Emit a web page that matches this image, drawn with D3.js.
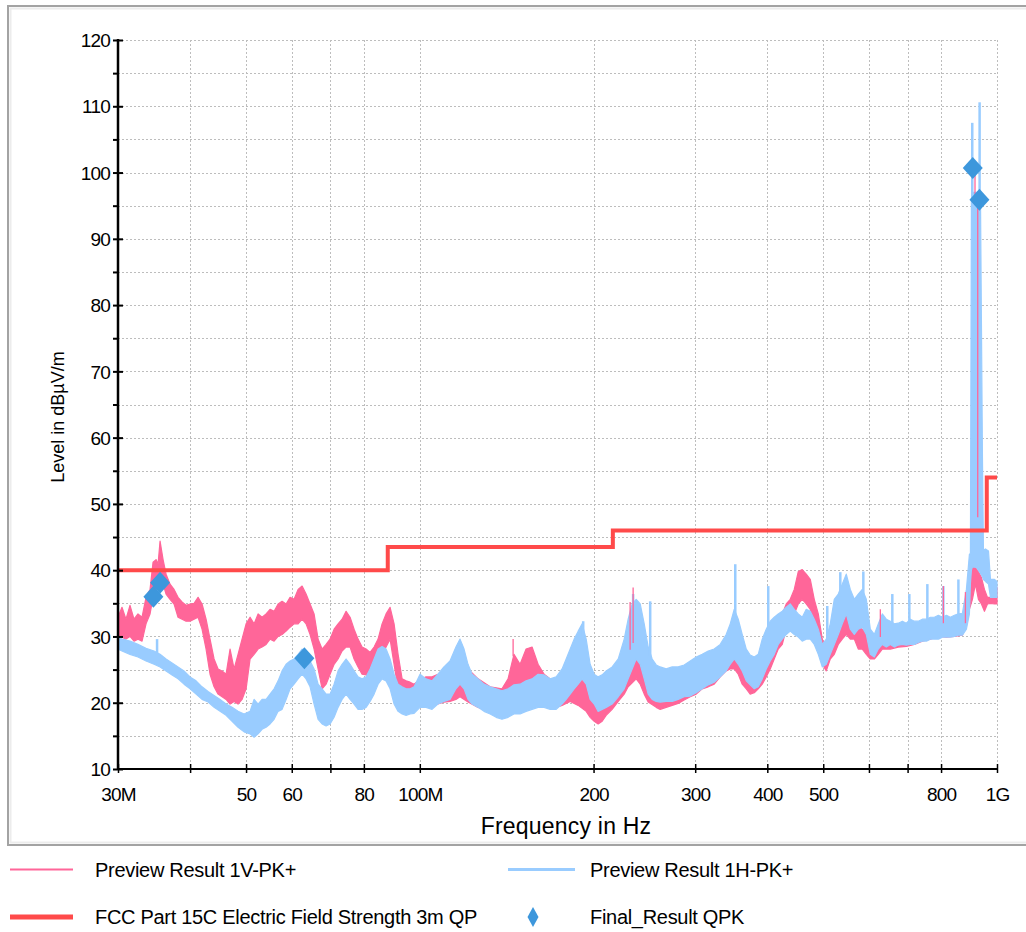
<!DOCTYPE html>
<html>
<head>
<meta charset="utf-8">
<script src="https://cdn.jsdelivr.net/npm/d3@7"></script>
<style>
  html, body { margin: 0; padding: 0; background: #fff; }
  svg text { font-family: "Liberation Sans", Arial, sans-serif; fill: #000; }
</style>
</head>
<body>
<svg id="chart" width="1026" height="932"></svg>
<script>
// ---- axis ticks ----
const xTickValues = [30, 40, 50, 60, 70, 80, 100, 200, 300, 400, 500, 600, 700, 800, 1000];
const xTickLabels = ["30M", "", "50", "60", "", "80", "100M", "200", "300", "400", "500", "", "", "800", "1G"];
const yMajorTicks = [10, 20, 30, 40, 50, 60, 70, 80, 90, 100, 110, 120];
const yMinorTicks = [15, 25, 35, 45, 55, 65, 75, 85, 95, 105, 115];

// ---- FCC Part 15C limit (MHz, dBµV/m) ----
const limitFreq  = [30, 88, 88, 216, 216, 960, 960, 1000];
const limitLevel = [40, 40, 43.5, 43.5, 46, 46, 54, 54];

// ---- Preview Result 1V-PK+ : peak envelope per frequency [MHz, low dB, high dB] ----
const vertBand = [
  [30.0,29.3,32.9],[30.48,29.9,34.4],[30.97,29.6,32.6],[31.47,30.0,34.7],[31.98,29.3,32.6],
  [32.49,29.6,33.4],[33.02,29.3,32.9],[33.55,31.9,35.9],[34.09,33.4,37.1],[34.50,35.9,41.2],
  [34.92,37.1,41.6],[35.20,37.9,40.9],[35.48,38.6,44.4],[35.91,37.9,41.6],[36.34,36.4,39.4],
  [36.92,35.6,37.9],[37.52,34.9,37.1],[38.12,32.9,35.9],[38.73,32.6,35.2],[39.36,32.3,34.7],
  [39.99,32.3,34.9],[40.64,32.6,35.0],[41.29,32.9,35.9],[41.95,31.1,34.9],[42.63,28.1,32.6],
  [43.31,24.3,29.6],[44.01,22.4,26.6],[44.72,21.3,25.1],[45.44,20.9,24.8],[46.17,20.5,24.3],
  [46.91,19.8,28.1],[47.67,20.2,25.1],[48.43,19.8,27.3],[49.21,20.5,29.6],[50.01,22.1,31.9],
  [50.81,26.6,32.9],[51.63,27.3,31.9],[52.46,28.1,33.4],[53.30,28.4,32.9],[54.16,28.8,33.4],
  [55.03,29.6,34.1],[55.92,29.3,33.8],[56.82,30.0,34.9],[57.73,30.3,35.3],[58.66,30.8,34.9],
  [59.60,31.4,35.9],[60.56,31.9,35.6],[61.54,31.9,37.1],[62.53,32.6,37.6],[63.53,31.9,36.4],
  [64.55,30.3,34.9],[65.59,28.1,33.4],[66.65,25.1,29.6],[67.72,22.1,28.1],[68.81,22.8,28.8],
  [69.91,24.3,29.6],[71.04,25.8,31.1],[72.18,26.6,31.9],[73.34,27.8,32.6],[74.52,28.4,33.8],
  [75.72,28.4,32.9],[76.94,26.6,31.1],[78.17,25.4,29.6],[79.43,24.3,28.4],[80.71,24.2,28.1],
  [82.01,23.9,27.6],[83.33,24.3,28.4],[84.67,25.4,29.6],[86.03,27.3,31.9],[87.41,28.4,33.4],
  [88.82,29.6,34.4],[90.25,25.8,31.9],[91.70,22.1,27.3],[93.18,20.5,23.6],[94.68,20.5,23.3],
  [96.20,20.2,23.1],[97.75,20.1,22.8],[99.32,20.1,23.3],[102.5,19.8,23.9],[105.0,19.8,23.9],
  [107.5,19.8,24.3],[110.1,20.1,24.8],[112.8,20.2,25.1],[115.5,20.5,25.8],[117.4,20.9,26.6],
  [121.2,20.1,25.1],[126.2,19.3,23.6],[132.4,18.7,22.4],[138.8,18.3,22.1],[142.2,18.7,23.6],
  [145.6,19.8,27.3],[149.2,19.3,25.8],[152.8,20.9,28.1],[156.5,22.1,28.4],[160.3,21.0,25.8],
  [164.2,20.2,24.3],[168.2,19.8,23.6],[172.3,19.3,23.3],[176.4,19.6,23.3],[182.2,20.2,24.0],
  [188.1,19.6,23.9],[194.2,18.7,22.8],[197.3,17.8,21.7],[200.5,17.2,20.9],[203.7,16.8,20.5],
  [207.0,17.2,20.9],[210.3,18.1,21.7],[215.4,19.0,23.3],[220.7,20.2,25.4],[226.0,21.3,26.6],
  [229.6,22.4,28.8],[237.1,23.6,29.6],[240.9,22.8,28.1],[244.8,21.3,25.8],[248.7,20.1,23.6],
  [256.8,19.3,22.1],[260.9,19.0,21.7],[267.2,19.3,22.1],[273.7,19.6,22.4],[280.3,19.9,22.7],
  [287.1,20.4,23.3],[294.1,20.9,24.0],[301.2,21.3,24.8],[308.5,22.1,25.4],[316.0,22.4,25.8],
  [323.6,22.8,26.6],[331.5,23.9,28.1],[339.5,24.8,29.6],[345.0,25.1,29.9],[350.6,25.1,29.6],
  [356.2,24.3,29.3],[361.9,22.8,27.3],[367.8,22.1,25.8],[373.6,21.3,24.3],[379.7,21.5,24.2],
  [385.8,22.1,25.4],[392.0,22.8,26.6],[398.3,23.9,28.1],[404.7,25.1,29.6],[411.2,26.6,31.9],
  [417.8,28.1,32.6],[424.6,28.8,33.4],[431.4,31.1,34.9],[438.3,31.9,35.6],[445.4,33.4,37.1],
  [452.6,34.9,39.8],[459.8,35.6,40.1],[467.2,34.9,39.4],[474.8,34.1,38.6],[482.4,31.1,35.6],
  [490.2,28.8,33.4],[498.1,25.8,29.6],[506.1,24.8,28.1],[514.2,26.6,29.6],[522.5,27.3,31.9],
  [530.9,28.8,33.4],[539.4,29.6,34.4],[548.1,30.3,35.2],[557.0,29.6,34.1],[565.9,29.6,32.6],
  [575.0,28.1,31.4],[584.3,28.1,31.1],[593.7,27.3,30.8],[603.3,26.6,29.6],[613.0,26.6,29.6],
  [622.8,27.3,29.9],[632.8,28.1,30.3],[653.4,28.1,30.3],[674.6,28.4,30.6],[696.5,28.5,30.8],
  [719.1,28.8,31.4],[742.4,29.3,31.4],[766.6,29.6,31.7],[791.5,30.0,32.0],[817.2,29.9,31.9],
  [843.7,30.0,31.9],[871.1,30.2,32.3],[885.1,31.9,35.6],[895.8,34.1,39.4],[906.6,35.6,40.9],
  [917.5,37.9,40.4],[928.6,35.6,39.8],[939.8,34.9,38.9],[951.2,33.8,37.1],[962.7,34.9,35.9],
  [974.4,35.0,35.9],[990.1,34.9,36.2],[1000,34.9,37.4]
];

// ---- Preview Result 1H-PK+ : peak envelope per frequency [MHz, low dB, high dB] ----
const horizBand = [
  [30.0,28.1,29.9],[30.48,27.8,29.6],[31.47,27.3,29.3],[32.49,26.9,28.8],[33.55,26.3,28.2],
  [34.64,25.8,27.8],[35.48,25.4,27.3],[36.34,24.8,26.6],[37.22,24.2,26.0],[38.12,23.6,25.4],
  [39.04,22.8,24.8],[39.99,22.1,23.9],[40.96,21.3,23.3],[41.95,20.5,22.4],[42.97,20.1,21.7],
  [44.01,19.3,21.1],[45.08,18.7,20.5],[46.17,18.1,19.8],[47.29,17.2,19.3],[48.43,16.3,18.7],
  [49.61,15.6,18.3],[50.81,15.3,18.7],[51.63,14.8,20.5],[52.46,15.3,19.8],[53.30,16.0,20.5],
  [54.16,16.3,20.5],[55.03,16.8,21.3],[55.92,17.5,22.1],[56.82,18.7,23.3],[57.73,19.0,24.8],
  [58.66,20.5,25.8],[59.60,22.1,26.3],[60.56,22.8,26.6],[61.54,23.6,27.3],[62.53,24.3,28.1],
  [63.53,23.6,27.3],[64.55,22.4,26.3],[65.59,19.8,25.1],[66.65,17.5,22.8],[67.72,16.8,22.1],
  [68.81,16.5,21.3],[69.91,16.8,21.3],[71.04,17.8,22.8],[72.18,19.3,24.8],[73.34,20.5,25.8],
  [74.52,21.3,26.6],[75.72,20.5,25.8],[76.94,19.8,24.8],[78.17,19.0,23.9],[79.43,19.0,23.6],
  [80.71,19.3,23.9],[82.01,20.2,25.1],[83.33,21.3,26.6],[84.67,22.8,28.1],[86.03,23.6,28.5],
  [87.41,23.3,28.1],[88.82,22.1,26.6],[90.25,19.8,24.3],[91.70,18.7,22.8],[93.18,18.3,22.4],
  [94.68,18.1,22.1],[96.20,18.3,22.1],[97.75,18.4,22.4],[100.1,19.3,24.3],[102.5,19.3,23.6],
  [105.0,19.0,23.3],[107.5,19.8,24.3],[110.1,20.2,25.4],[112.8,20.5,26.3],[115.5,22.1,28.4],
  [117.4,22.8,29.6],[119.3,22.1,28.1],[121.2,20.5,25.8],[123.2,19.8,24.3],[126.2,19.3,23.6],
  [129.2,18.7,22.8],[132.4,18.3,22.4],[135.6,17.8,22.1],[138.8,17.5,21.8],[142.2,17.8,22.1],
  [145.6,18.3,22.7],[149.2,18.3,22.8],[152.8,18.7,23.3],[156.5,19.0,23.6],[160.3,19.3,24.3],
  [164.2,19.3,24.2],[168.2,19.0,23.6],[172.3,19.0,23.9],[176.4,19.8,25.1],[179.3,20.5,26.6],
  [182.2,21.3,28.1],[185.1,22.1,29.6],[188.1,22.8,30.8],[191.1,23.6,31.9],[194.2,22.8,29.6],
  [197.3,20.5,25.8],[200.5,19.8,24.3],[203.7,18.7,23.9],[207.0,19.0,24.2],[210.3,19.3,24.8],
  [215.4,19.8,25.4],[220.7,20.9,26.6],[226.0,22.1,29.6],[229.6,23.6,32.6],[233.3,25.1,34.9],
  [237.1,26.6,35.6],[240.9,25.8,34.9],[244.8,23.6,31.9],[248.7,21.3,28.4],[252.7,20.5,26.6],
  [256.8,20.2,25.7],[260.9,20.1,25.4],[267.2,20.2,25.1],[273.7,20.2,25.4],[280.3,20.5,25.4],
  [287.1,20.9,25.7],[294.1,21.0,26.3],[301.2,21.5,26.9],[308.5,22.1,27.3],[316.0,22.7,27.8],
  [323.6,23.1,28.1],[331.5,23.9,28.8],[339.5,24.8,30.3],[345.0,25.8,31.9],[350.6,26.6,34.1],
  [356.2,25.8,32.6],[361.9,24.8,30.3],[367.8,23.3,28.1],[373.6,22.7,27.2],[379.7,22.1,26.9],
  [385.8,22.4,27.3],[392.0,23.6,29.6],[398.3,25.1,31.1],[404.7,26.3,32.3],[411.2,27.3,32.9],
  [417.8,28.8,33.4],[424.6,29.6,33.8],[431.4,30.3,34.4],[438.3,30.8,34.9],[445.4,30.3,34.1],
  [452.6,29.9,33.4],[459.8,29.3,32.9],[467.2,29.6,34.1],[474.8,29.6,33.8],[482.4,28.8,32.6],
  [490.2,27.3,31.1],[498.1,25.4,28.8],[506.1,25.8,29.6],[514.2,27.3,31.9],[522.5,28.8,35.6],
  [530.9,30.3,36.4],[539.4,31.9,37.9],[548.1,33.4,39.4],[557.0,31.1,37.1],[565.9,30.3,35.6],
  [575.0,31.1,36.4],[584.3,31.4,37.1],[593.7,30.3,35.6],[603.3,27.3,31.1],[613.0,26.9,30.3],
  [622.8,28.1,31.9],[632.8,28.8,33.4],[643.0,28.4,32.6],[653.4,28.8,32.3],[663.9,28.4,31.9],
  [674.6,28.7,32.0],[685.5,28.8,32.3],[696.5,28.7,32.0],[707.7,28.8,32.6],[719.1,28.8,32.3],
  [730.7,29.1,32.3],[742.4,29.3,32.6],[754.4,29.3,32.6],[766.6,29.6,32.9],[778.9,29.6,32.9],
  [791.5,29.6,33.2],[804.2,29.9,32.9],[817.2,29.9,33.2],[830.3,29.9,32.9],[843.7,30.0,33.2],
  [857.3,30.2,33.4],[871.1,30.2,33.5],[885.1,31.1,37.1],[895.8,33.4,42.4],[899.4,38.0,42.5],
  [903.0,40.0,96.0],[906.6,40.5,97.0],[921.2,40.4,97.0],[936.1,39.5,97.0],[943.6,39.0,57.0],
  [947.4,38.6,43.0],[955.0,38.3,43.2],[966.6,37.9,42.9],[974.4,35.9,38.6],[990.1,35.9,38.6],
  [1000,35.9,38.3]
];

// ---- narrowband emissions standing above the envelope [MHz, base dB, peak dB] ----
const horizSpikes = [
  [35.06,27.3,29.6],[191.9,30.0,32.3],[234.2,33.0,36.4],[250.7,27.0,35.3],[352.0,33.0,40.9],
  [401.5,30.0,37.6],[508.1,29.0,34.6],[535.2,36.0,39.7],[586.7,36.0,39.8],[658.6,32.0,36.4],
  [704.9,32.0,36.4],[757.4,32.0,37.9],[807.4,32.0,37.6],[857.3,33.0,38.6],[906.0,96.0,107.5],
  [933.0,96.0,110.6]
];
const vertSpikes = [
  [145.1,27.0,29.6],[231.4,28.0,35.2],[234.2,29.0,37.4],[627.9,29.9,34.1],[807.4,32.0,37.6],
  [881.6,32.0,36.7],[916.0,96.5,100.5],[926.0,48.0,95.5]
];

// ---- Final_Result QPK [MHz, dBµV/m] ----
const finalFreq  = [34.55, 35.48, 63.1, 907.8, 932.3];
const finalLevel = [36.0, 38.1, 26.7, 100.7, 95.9];

// ---- legend ----
const legendLabels = [
  "Preview Result 1V-PK+",
  "Preview Result 1H-PK+",
  "FCC Part 15C Electric Field Strength 3m QP",
  "Final_Result QPK"
];

const colVert = "#ff6699", colHoriz = "#99ccff", colLimit = "#ff4a4a", colFinal = "#3d97dc";

const svg = d3.select("#chart");
const plotLeft = 118, plotRight = 997, plotTop = 40, plotBottom = 769;
const x = d3.scaleLog().domain([30, 1000]).range([plotLeft, plotRight]);
const y = d3.scaleLinear().domain([10, 120]).range([plotBottom, plotTop]);

// panel frame
svg.append("rect").attr("x", 8).attr("y", 6).attr("width", 1040).attr("height", 839)
  .attr("fill", "#fff").attr("stroke", "#a3a3a3").attr("stroke-width", 2);
svg.append("rect").attr("x", 10.5).attr("y", 8.5).attr("width", 1040).attr("height", 834)
  .attr("fill", "none").attr("stroke", "#ececec").attr("stroke-width", 2);

// dotted grid
const grid = svg.append("g").attr("stroke", "#bdbdbd").attr("stroke-width", 1)
  .attr("stroke-dasharray", "2,2");
grid.selectAll("line.v").data(xTickValues.slice(1)).join("line")
  .attr("x1", d => Math.round(x(d)) + 0.5).attr("x2", d => Math.round(x(d)) + 0.5)
  .attr("y1", plotTop).attr("y2", plotBottom);
grid.selectAll("line.h").data(yMajorTicks.concat(yMinorTicks).filter(d => d > 10)).join("line")
  .attr("x1", plotLeft).attr("x2", plotRight)
  .attr("y1", d => Math.round(y(d)) + 0.5).attr("y2", d => Math.round(y(d)) + 0.5);

// traces
svg.append("clipPath").attr("id", "plotClip").append("rect")
  .attr("x", plotLeft).attr("y", plotTop - 2)
  .attr("width", plotRight - plotLeft + 1).attr("height", plotBottom - plotTop + 2);
const plot = svg.append("g").attr("clip-path", "url(#plotClip)");

const band = d3.area().x(d => x(d[0])).y0(d => y(d[1])).y1(d => y(d[2]));

plot.append("path").datum(vertBand).attr("d", band)
  .attr("fill", colVert).attr("stroke", colVert).attr("stroke-width", 1.2).attr("stroke-linejoin", "round");
plot.append("path").datum(horizBand).attr("d", band)
  .attr("fill", colHoriz).attr("stroke", colHoriz).attr("stroke-width", 1.2).attr("stroke-linejoin", "round");

plot.selectAll("line.hs").data(horizSpikes).join("line")
  .attr("x1", d => x(d[0])).attr("x2", d => x(d[0]))
  .attr("y1", d => y(d[1])).attr("y2", d => y(d[2]))
  .attr("stroke", colHoriz).attr("stroke-width", 2.5);
plot.selectAll("line.vs").data(vertSpikes).join("line")
  .attr("x1", d => x(d[0])).attr("x2", d => x(d[0]))
  .attr("y1", d => y(d[1])).attr("y2", d => y(d[2]))
  .attr("stroke", colVert).attr("stroke-width", 1.3);

// limit line
const limitLine = d3.line().x(d => x(d[0])).y(d => y(d[1]));
plot.append("path").datum(limitFreq.map((f, i) => [f, limitLevel[i]])).attr("d", limitLine)
  .attr("fill", "none").attr("stroke", colLimit).attr("stroke-width", 4);

// final quasi-peak results
const diamond = (hw, hh) => `M0,${-hh}L${hw},0L0,${hh}L${-hw},0Z`;
plot.selectAll("path.final").data(finalFreq.map((f, i) => [f, finalLevel[i]])).join("path")
  .attr("transform", d => `translate(${x(d[0])},${y(d[1])})`)
  .attr("d", diamond(10, 11)).attr("fill", colFinal);

// x axis
const xAxis = svg.append("g").attr("transform", `translate(0,${plotBottom})`)
  .call(d3.axisBottom(x).tickValues(xTickValues)
    .tickFormat((d, i) => xTickLabels[i]).tickSize(4).tickPadding(0));
xAxis.select(".domain").remove();
xAxis.append("line").attr("x1", plotLeft - 1).attr("x2", plotRight + 1)
  .attr("stroke", "#000").attr("stroke-width", 2);
xAxis.selectAll(".tick line").attr("y1", -5).attr("y2", 4).attr("stroke", "#000").attr("stroke-width", 1.5);
xAxis.selectAll(".tick text").attr("y", 32).attr("dy", null)
  .style("font-size", "19px").style("letter-spacing", "-0.8px").attr("fill", "#000");

// y axis
const yAxis = svg.append("g").attr("transform", `translate(${plotLeft},0)`)
  .call(d3.axisLeft(y).tickValues(yMajorTicks).tickFormat(d3.format("d")).tickSize(5).tickPadding(0));
yAxis.select(".domain").remove();
yAxis.selectAll(".tick line").attr("x1", -5).attr("x2", 5).attr("stroke", "#000").attr("stroke-width", 2);
yAxis.selectAll(".tick text").attr("x", -8).attr("dy", "0.35em")
  .style("font-size", "19px").style("letter-spacing", "-0.8px").attr("fill", "#000");
const yMinor = svg.append("g").attr("transform", `translate(${plotLeft},0)`)
  .call(d3.axisLeft(y).tickValues(yMinorTicks).tickFormat("").tickSize(5));
yMinor.select(".domain").remove();
yMinor.selectAll(".tick line").attr("stroke", "#000").attr("stroke-width", 2);
yAxis.append("line").attr("y1", plotTop - 1).attr("y2", plotBottom + 1)
  .attr("stroke", "#000").attr("stroke-width", 2.5);

// axis titles
svg.append("text").attr("transform", "translate(58,417) rotate(-90)")
  .attr("text-anchor", "middle").attr("dy", "0.35em")
  .style("font-size", "18px").text("Level in dBµV/m");
svg.append("text").attr("x", 566).attr("y", 834).attr("text-anchor", "middle")
  .style("font-size", "23px").style("letter-spacing", "0.2px").text("Frequency in Hz");

// legend
const lg = svg.append("g");
lg.append("line").attr("x1", 10).attr("x2", 73).attr("y1", 869.5).attr("y2", 869.5)
  .attr("stroke", colVert).attr("stroke-width", 2);
lg.append("line").attr("x1", 508).attr("x2", 575).attr("y1", 869.5).attr("y2", 869.5)
  .attr("stroke", colHoriz).attr("stroke-width", 3);
lg.append("line").attr("x1", 10).attr("x2", 73).attr("y1", 917).attr("y2", 917)
  .attr("stroke", colLimit).attr("stroke-width", 5);
lg.append("path").attr("transform", "translate(533,917)").attr("d", diamond(5.5, 10)).attr("fill", colFinal);
const legendPos = [[95, 870], [590, 870], [95, 917], [590, 917]];
lg.selectAll("text").data(legendLabels).join("text")
  .attr("x", (d, i) => legendPos[i][0]).attr("y", (d, i) => legendPos[i][1])
  .attr("dy", "0.35em").style("font-size", "20px").style("letter-spacing", "-0.3px")
  .text(d => d);
</script>
</body>
</html>
